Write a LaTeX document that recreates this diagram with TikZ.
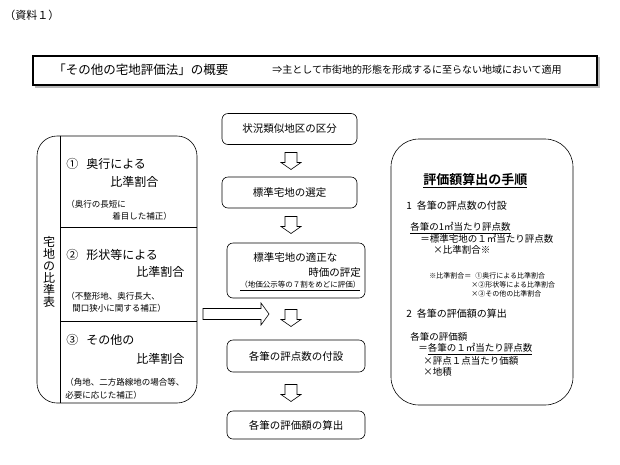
\documentclass[tikz,border=0pt]{standalone}
\usepackage{fontspec}
\setmainfont{Noto Sans CJK JP}[BoldFont={Noto Sans CJK JP Bold}]

\newcommand{\jfs}[1]{\fontsize{#1}{#1}\selectfont}

\tikzset{
  every node/.style={inner sep=0pt},
  kbox/.style={draw, rounded corners=6pt, font=\jfs{10.5}},
  lt/.style={anchor=west},
  midasi/.style={lt, font=\jfs{12}},
  hosoku/.style={lt, font=\jfs{8.5}},
  honbun/.style={lt, font=\jfs{9.5}},
  tyuu/.style={lt, font=\jfs{7}},
  % hollow block arrows
  sitaya/.pic={\draw[line join=miter] (-6,-8.5) -- (-6,1.5) -- (-10,1.5) -- (0,8.5)
    -- (10,1.5) -- (6,1.5) -- (6,-8.5) -- cycle;},
  migiya/.pic={\draw[line join=miter] (-33,-5.5) -- (25,-5.5) -- (25,-11) -- (33,0)
    -- (25,11) -- (25,5.5) -- (-33,5.5) -- cycle;},
}

\begin{document}
\begin{tikzpicture}[x=1pt, y=-1pt, line width=0.6pt]
  \useasboundingbox (0,0) rectangle (620,464);
  \node[lt, font=\jfs{11}] (siryou) at (4,15) {（資料１）};

  % title bar
  \fill[gray!55] (35,57) rectangle (600,88);
  \node[draw, fill=white, line width=2pt, minimum width=564pt,
    minimum height=29pt] (gaiyou) at (315,70) {};
  \node[lt, font=\jfs{12.5}] (gtitle) at (53,70) {「その他の宅地評価法」の概要};
  \node[lt, font=\jfs{10}] (gsub) at (272,70)
    {⇒主として市街地的形態を形成するに至らない地域において適用};

  % left: hikaku table
  \node[draw, rounded corners=20pt, minimum width=160pt,
    minimum height=267pt] (hyou) at (117,269.5) {};
  \draw ([xshift=24pt]hyou.north west) -- ([xshift=24pt]hyou.south west);
  \coordinate (div1) at (61,227);
  \coordinate (div2) at (61,321);
  \draw (div1) -- (div1 -| hyou.east);
  \draw (div2) -- (div2 -| hyou.east);
  \node[font=\jfs{12}, align=center] (hyoulabel) at (49,272)
    {宅\\地\\の\\比\\準\\表};

  \node[midasi] (okuyuki) at (66,164) {①\hspace{8pt}奥行による};
  \node[midasi] (okuyuki2) at (110,182) {比準割合};
  \node[hosoku] (okunote) at (66,204) {（奥行の長短に};
  \node[hosoku] (okunote2) at (112,216) {着目した補正）};

  \node[midasi] (keijou) at (66,255) {②\hspace{8pt}形状等による};
  \node[midasi] (keijou2) at (136,272) {比準割合};
  \node[hosoku] (keinote) at (66,296) {（不整形地、奥行長大、};
  \node[hosoku] (keinote2) at (72,308) {間口狭小に関する補正）};

  \node[midasi] (sonota) at (66,340) {③\hspace{8pt}その他の};
  \node[midasi] (sonota2) at (136,359) {比準割合};
  \node[hosoku] (sonnote) at (65,382) {（角地、二方路線地の場合等、};
  \node[hosoku] (sonnote2) at (65,395) {必要に応じた補正）};

  % center: flow
  \node[kbox, minimum width=135pt, minimum height=31pt] (kubun)
    at (289.5,129) {状況類似地区の区分};
  \node[kbox, minimum width=135pt, minimum height=31pt] (sentei)
    at (289.5,192.5) {標準宅地の選定};
  \node[kbox, minimum width=138pt, minimum height=55pt] (jika)
    at (296,270.5) {};
  \node[lt, font=\jfs{10.5}] (jika1) at (253,257) {標準宅地の適正な};
  \node[lt, font=\jfs{10.5}] (jika2) at (308,273) {時価の評定};
  \node[lt, font=\jfs{7.5}] (jika3) at (240,286)
    {\underline{（地価公示等の７割をめどに評価）}};
  \node[kbox, minimum width=138pt, minimum height=32pt] (fusetu)
    at (296,356) {各筆の評点数の付設};
  \node[kbox, minimum width=138pt, minimum height=28pt] (santei)
    at (296,425) {各筆の評価額の算出};

  \pic (ya1) at (291,161) {sitaya};
  \pic (ya2) at (291,225) {sitaya};
  \pic (ya3) at (291,318) {sitaya};
  \pic (ya4) at (291,393) {sitaya};
  \pic (migiya) at (236,314) {migiya};

  % right: tejun
  \node[draw, rounded corners=28pt, minimum width=182pt,
    minimum height=266pt] (tejun) at (482,272) {};
  \node[lt, font=\jfs{13}\bfseries] (tjtitle) at (423,181)
    {\underline{評価額算出の手順}};
  \node[lt, font=\jfs{10}] (step1) at (406,206) {1\hspace{5pt}各筆の評点数の付設};
  \node[honbun] (s1a) at (410,228) {\underline{各筆の1㎡当たり評点数}};
  \node[honbun] (s1b) at (420,239) {＝標準宅地の１㎡当たり評点数};
  \node[honbun] (s1c) at (433,250) {×比準割合※};
  \node[tyuu] (kome1) at (429,276) {※比準割合＝\hspace{4pt}①奥行による比準割合};
  \node[tyuu] (kome2) at (471,285) {×②形状等による比準割合};
  \node[tyuu] (kome3) at (471,294) {×③その他の比準割合};
  \node[lt, font=\jfs{10}] (step2) at (406,314) {2\hspace{5pt}各筆の評価額の算出};
  \node[honbun] (s2a) at (410,337) {各筆の評価額};
  \node[honbun] (s2b) at (418,349) {＝\underline{各筆の１㎡当たり評点数}};
  \node[honbun] (s2c) at (423,361) {×評点１点当たり価額};
  \node[honbun] (s2d) at (423,372) {×地積};
\end{tikzpicture}
\end{document}
